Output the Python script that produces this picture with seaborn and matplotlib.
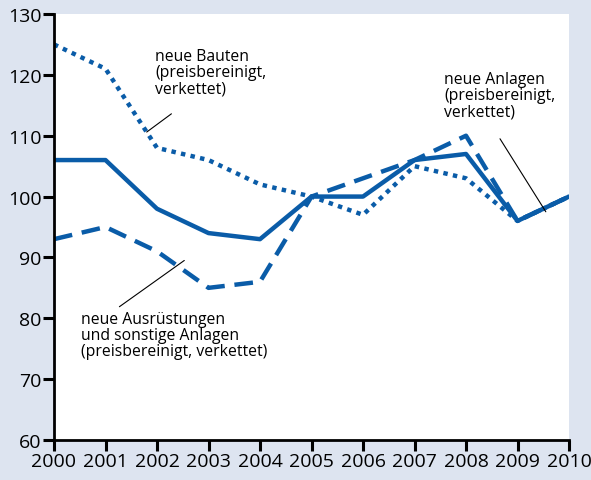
import matplotlib
matplotlib.use("Agg")
import matplotlib.pyplot as plt
import seaborn as sns
import pandas as pd

years = list(range(2000, 2011))
anlagen = [106, 106, 98, 94, 93, 100, 100, 106, 107, 96, 100]
bauten = [125, 121, 108, 106, 102, 100, 97, 105, 103, 96, 100]
ausruestungen = [93, 95, 91, 85, 86, 100, 103, 106, 110, 96, 100]
yticks = [60, 70, 80, 90, 100, 110, 120, 130]

sns.set_style("ticks")
plt.rcParams['font.family'] = ['Open Sans', 'DejaVu Sans']

bg = '#dde4f0'
blue = '#0a5ca8'

fig, ax = plt.subplots(figsize=(5.91, 4.81), dpi=100, facecolor=bg)
fig.subplots_adjust(left=54/591, right=569/591, bottom=1-441/481, top=1-15/481)
ax.set_facecolor('white')

sns.lineplot(x=years, y=bauten, ax=ax, color=blue, lw=3.2)
ax.lines[-1].set_dashes([1.0, 1.2])
ax.lines[-1].set_dash_capstyle('butt')
sns.lineplot(x=years, y=ausruestungen, ax=ax, color=blue, lw=3.2)
ax.lines[-1].set_dashes([4.2, 2.2])
ax.lines[-1].set_dash_capstyle('butt')
sns.lineplot(x=years, y=anlagen, ax=ax, color=blue, lw=3.2)

ax.set_xlim(2000, 2010)
ax.set_ylim(60, 130)
ax.set_xticks(years)
ax.set_yticks(yticks)
ax.tick_params(axis='both', which='major', direction='out', length=8, width=2.2,
               colors='black', labelsize=14, pad=1)
for s in ['top', 'right']:
    ax.spines[s].set_visible(False)
for s in ['left', 'bottom']:
    ax.spines[s].set_color('black')
    ax.spines[s].set_linewidth(2.0)
ax.set_xlabel('')
ax.set_ylabel('')

fs = 11.3
tc = 'black'
ax.text(2001.97, 124.4, 'neue Bauten\n(preisbereinigt,\nverkettet)', fontsize=fs,
        va='top', ha='left', linespacing=1.0, color=tc)
ax.plot([2002.28, 2001.8], [113.6, 110.6], color='black', lw=0.8)

ax.text(2007.58, 120.6, 'neue Anlagen\n(preisbereinigt,\nverkettet)', fontsize=fs,
        va='top', ha='left', linespacing=1.0, color=tc)
ax.plot([2008.66, 2009.55], [109.5, 97.5], color='black', lw=0.8)

ax.text(2000.52, 81.2, 'neue Ausrüstungen\nund sonstige Anlagen\n(preisbereinigt, verkettet)',
        fontsize=fs, va='top', ha='left', linespacing=1.0, color=tc)
ax.plot([2001.27, 2002.53], [81.9, 89.5], color='black', lw=0.8)

fig.savefig('out.png', dpi=100, facecolor=bg)
